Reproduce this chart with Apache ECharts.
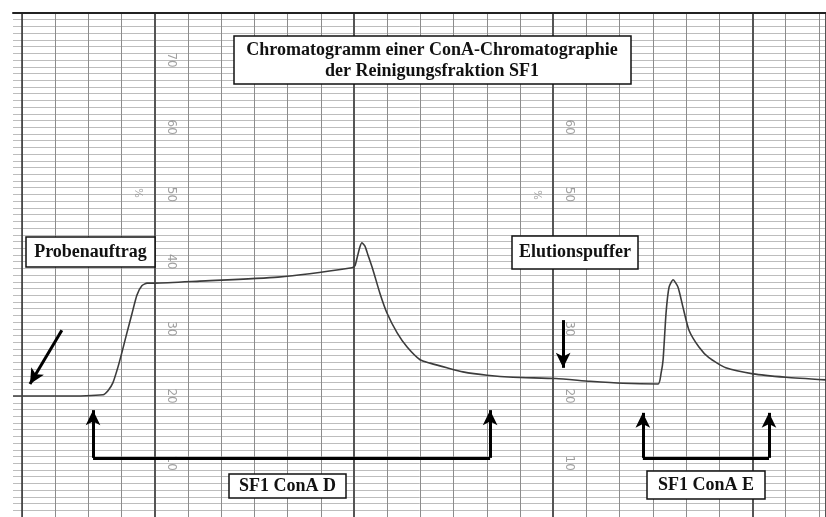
<!DOCTYPE html>
<html>
<head>
<meta charset="utf-8">
<script src="https://cdn.jsdelivr.net/npm/echarts@6/dist/echarts.min.js"></script>
<style>
  html, body { margin: 0; padding: 0; background: #fff; }
  #chart { width: 826px; height: 517px; }
</style>
</head>
<body>
<div id="chart"></div>
<script>
// chart paper divisions (x) and recorder signal in % (y)
const curveX = [-0.27, 1.14, 2.44, 2.59, 2.74, 2.89, 3.01, 3.16, 3.31, 3.46, 3.61, 3.77, 4.01, 5.36, 7.71,
  9.94, 10.03, 10.09, 10.18, 10.24, 10.33, 10.42, 10.57, 10.78, 10.99, 11.30, 11.60, 11.99, 12.29, 12.80,
  13.28, 14.01, 14.79, 16.08, 17.11, 18.10, 19.16, 19.25, 19.31, 19.40, 19.49, 19.61, 19.76, 19.91, 20.09,
  20.39, 20.69, 21.20, 22.02, 23.01, 24.22];
const curveY = [20.0, 20.0, 20.2, 20.8, 22.0, 24.3, 26.5, 29.4, 32.2, 35.0, 36.4, 36.8, 36.8, 37.1, 37.7,
  39.1, 39.4, 40.5, 42.2, 42.8, 42.3, 41.0, 38.8, 35.3, 32.4, 29.4, 27.3, 25.4, 24.9, 24.2,
  23.6, 23.1, 22.8, 22.6, 22.2, 21.9, 21.8, 23.4, 25.4, 32.4, 36.2, 37.3, 36.2, 33.2, 29.8,
  27.3, 25.7, 24.2, 23.3, 22.8, 22.4];

// printed scale numbers on the paper
const scaleValues = [70, 60, 50, 40, 30, 20, 10];
const scaleColumns = [4.49, 16.48];
const percentMarks = [[3.49, 50.2], [15.51, 49.9]];

// annotation arrows [x1, y1, x2, y2, arrowAtEnd]
const arrowSegments = [
  [1.20, 29.8, 0.24, 21.8, true],
  [2.14, 10.8, 2.14, 17.9, true],
  [2.14, 10.8, 14.10, 10.8, false],
  [14.10, 10.8, 14.10, 17.9, true],
  [16.30, 31.3, 16.30, 24.2, true],
  [18.70, 10.8, 18.70, 17.5, true],
  [18.70, 10.8, 22.50, 10.8, false],
  [22.50, 10.8, 22.50, 17.5, true]
];

const titleLines = ['Chromatogramm einer ConA-Chromatographie', 'der Reinigungsfraktion SF1'];
const labelBoxes = [
  { text: 'Probenauftrag', box: [26, 237, 129, 30] },
  { text: 'Elutionspuffer', box: [512, 236, 126, 33] },
  { text: 'SF1 ConA D', box: [229, 474, 117, 24] },
  { text: 'SF1 ConA E', box: [647, 471, 118, 28] }
];

const chart = echarts.init(document.getElementById('chart'));

const scaleData = [];
scaleColumns.forEach(x => scaleValues.forEach(v => scaleData.push([x, v])));

const fontSerif = 'Liberation Serif';
const boxGraphics = [];
boxGraphics.push({
  type: 'rect', z: 100,
  shape: { x: 234, y: 36, width: 397, height: 48 },
  style: { fill: '#fff', stroke: '#111', lineWidth: 1.5 }
});
titleLines.forEach((t, i) => {
  boxGraphics.push({
    type: 'text', z: 101, x: 432, y: 50 + i * 21,
    style: { text: t, font: 'bold 18px "' + fontSerif + '"', fill: '#111', align: 'center', verticalAlign: 'middle' }
  });
});
labelBoxes.forEach(b => {
  boxGraphics.push({
    type: 'rect', z: 100,
    shape: { x: b.box[0], y: b.box[1], width: b.box[2], height: b.box[3] },
    style: { fill: '#fff', stroke: '#111', lineWidth: 1.5 }
  });
  boxGraphics.push({
    type: 'text', z: 101, x: b.box[0] + b.box[2] / 2, y: b.box[1] + b.box[3] / 2,
    style: { text: b.text, font: 'bold 18px "' + fontSerif + '"', fill: '#111', align: 'center', verticalAlign: 'middle' }
  });
});

const option = {
  backgroundColor: '#fff',
  animation: false,
  grid: [
    { left: 13, top: 13, right: 0, bottom: 0 },
    { left: 22, top: 13, right: 0, bottom: 0 },
    { left: 154.8, top: 13, right: 0, bottom: 0 }
  ],
  xAxis: [
    {
      gridIndex: 0, type: 'value', min: -0.271, max: 24.217, position: 'top',
      axisLine: { show: true, lineStyle: { color: '#222', width: 2 } },
      axisTick: { show: false }, axisLabel: { show: false }, splitLine: { show: false }
    },
    {
      gridIndex: 1, type: 'value', min: 0, max: 24.217, interval: 1,
      axisLine: { show: false }, axisTick: { show: false }, axisLabel: { show: false },
      splitLine: { show: true, lineStyle: { color: '#8c8c8c', width: 1 } }
    },
    {
      gridIndex: 2, type: 'value', min: 0, max: 20.217, interval: 6,
      axisLine: { show: false }, axisTick: { show: false }, axisLabel: { show: false },
      splitLine: { show: true, lineStyle: { color: '#555', width: 2 } }
    }
  ],
  yAxis: [
    {
      gridIndex: 0, type: 'value', min: 2, max: 77, interval: 1,
      axisLine: { show: true, lineStyle: { color: '#333', width: 1.5 } },
      axisTick: { show: false }, axisLabel: { show: false },
      splitLine: { show: true, lineStyle: { color: '#bdbdbd', width: 1 } }
    },
    { gridIndex: 1, type: 'value', min: 2, max: 77, show: false },
    { gridIndex: 2, type: 'value', min: 2, max: 77, show: false }
  ],
  graphic: boxGraphics,
  series: [
    {
      type: 'scatter', xAxisIndex: 0, yAxisIndex: 0, symbolSize: 0, silent: true, z: 3,
      data: scaleData,
      label: {
        show: true, position: 'inside', rotate: -90, color: '#8a8a8a',
        fontFamily: 'DejaVu Sans', fontSize: 12,
        formatter: p => String(p.value[1])
      }
    },
    {
      type: 'scatter', xAxisIndex: 0, yAxisIndex: 0, symbolSize: 0, silent: true, z: 3,
      data: percentMarks,
      label: {
        show: true, position: 'inside', rotate: -90, color: '#8a8a8a',
        fontFamily: 'DejaVu Sans', fontSize: 10, formatter: '%'
      }
    },
    {
      type: 'line', xAxisIndex: 0, yAxisIndex: 0, z: 5,
      data: curveX.map((x, i) => [x, curveY[i]]),
      smooth: 0.2, showSymbol: false, silent: true,
      lineStyle: { color: '#3c3c3c', width: 1.6 },
      markLine: {
        silent: true, animation: false,
        symbolSize: [11, 15],
        label: { show: false },
        lineStyle: { color: '#000', width: 3, type: 'solid' },
        data: arrowSegments.map(s => [
          { coord: [s[0], s[1]], symbol: 'none' },
          { coord: [s[2], s[3]], symbol: s[4] ? 'arrow' : 'none' }
        ])
      }
    }
  ]
};

chart.setOption(option);
</script>
</body>
</html>
